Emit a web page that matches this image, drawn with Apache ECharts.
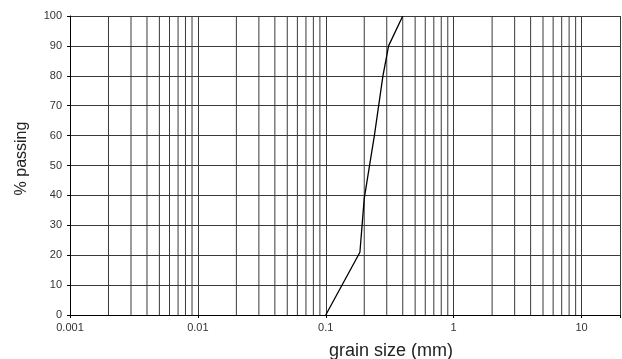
<!DOCTYPE html>
<html>
<head>
<meta charset="utf-8">
<script src="https://cdn.jsdelivr.net/npm/echarts@6/dist/echarts.min.js"></script>
<style>html,body{margin:0;padding:0;background:#fff}#c{width:622px;height:359px}</style>
</head>
<body>
<div id="c"></div>
<script>
// data
const grainSize = [0.1, 0.185, 0.2, 0.24, 0.28, 0.31, 0.4];
const passing = [0, 21, 39, 60, 80, 90, 100];
const xMajorTicks = [0.001, 0.01, 0.1, 1, 10];
const xMinorDecades = [0.001, 0.01, 0.1, 1];
const xMinorMultipliers = [2, 3, 4, 5, 6, 7, 8, 9];
const yTicks = [0, 10, 20, 30, 40, 50, 60, 70, 80, 90, 100];

const gridColor = '#3a3a3a';
const minorValues = [];
xMinorDecades.forEach(d => xMinorMultipliers.forEach(m => minorValues.push(+(d * m).toPrecision(3))));
const minorSeries = minorValues.map(v => ({
  type: 'line', silent: true, symbol: 'none', z: 1,
  data: [[v, yTicks[0]], [v, yTicks[yTicks.length - 1]]],
  lineStyle: { color: gridColor, width: 1 }
}));

const chart = echarts.init(document.getElementById('c'));
chart.setOption({
  animation: false,
  grid: { left: 70, right: 2, top: 16, bottom: 44, outerBoundsMode: 'none', containLabel: false },
  xAxis: {
    type: 'log', logBase: 10, min: 0.001, max: 20,
    name: 'grain size (mm)', nameLocation: 'middle', nameGap: 27,
    nameTextStyle: { fontFamily: 'Liberation Sans', fontSize: 18, color: '#222', padding: [0, 0, 0, 92] },
    axisLine: { show: true, lineStyle: { color: '#000', width: 1 } },
    axisTick: { show: true, inside: false, length: 3, lineStyle: { color: '#000' } },
    axisLabel: {
      fontFamily: 'Liberation Sans', fontSize: 11, color: '#333', margin: 7,
      formatter: v => { const t = xMajorTicks.find(k => Math.abs(k - v) / k < 1e-6); return t === undefined ? '' : String(t); }
    },
    splitLine: { show: true, lineStyle: { color: gridColor, width: 1 } }
  },
  yAxis: {
    type: 'value', min: yTicks[0], max: yTicks[yTicks.length - 1], interval: 10,
    name: '% passing', nameLocation: 'middle', nameGap: 40,
    nameTextStyle: { fontFamily: 'Liberation Sans', fontSize: 16, color: '#222', padding: [0, 0, 0, 14] },
    axisLine: { show: true, lineStyle: { color: '#000', width: 1 } },
    axisTick: { show: true, inside: false, length: 3, lineStyle: { color: '#000' } },
    axisLabel: { fontFamily: 'Liberation Sans', fontSize: 11, color: '#333', margin: 8 },
    splitLine: { show: true, lineStyle: { color: gridColor, width: 1 } }
  },
  series: minorSeries.concat([{
    type: 'line',
    data: grainSize.map((x, i) => [x, passing[i]]),
    symbol: 'none',
    lineStyle: { color: '#000', width: 1.3 },
    z: 5
  }])
});
</script>
</body>
</html>
